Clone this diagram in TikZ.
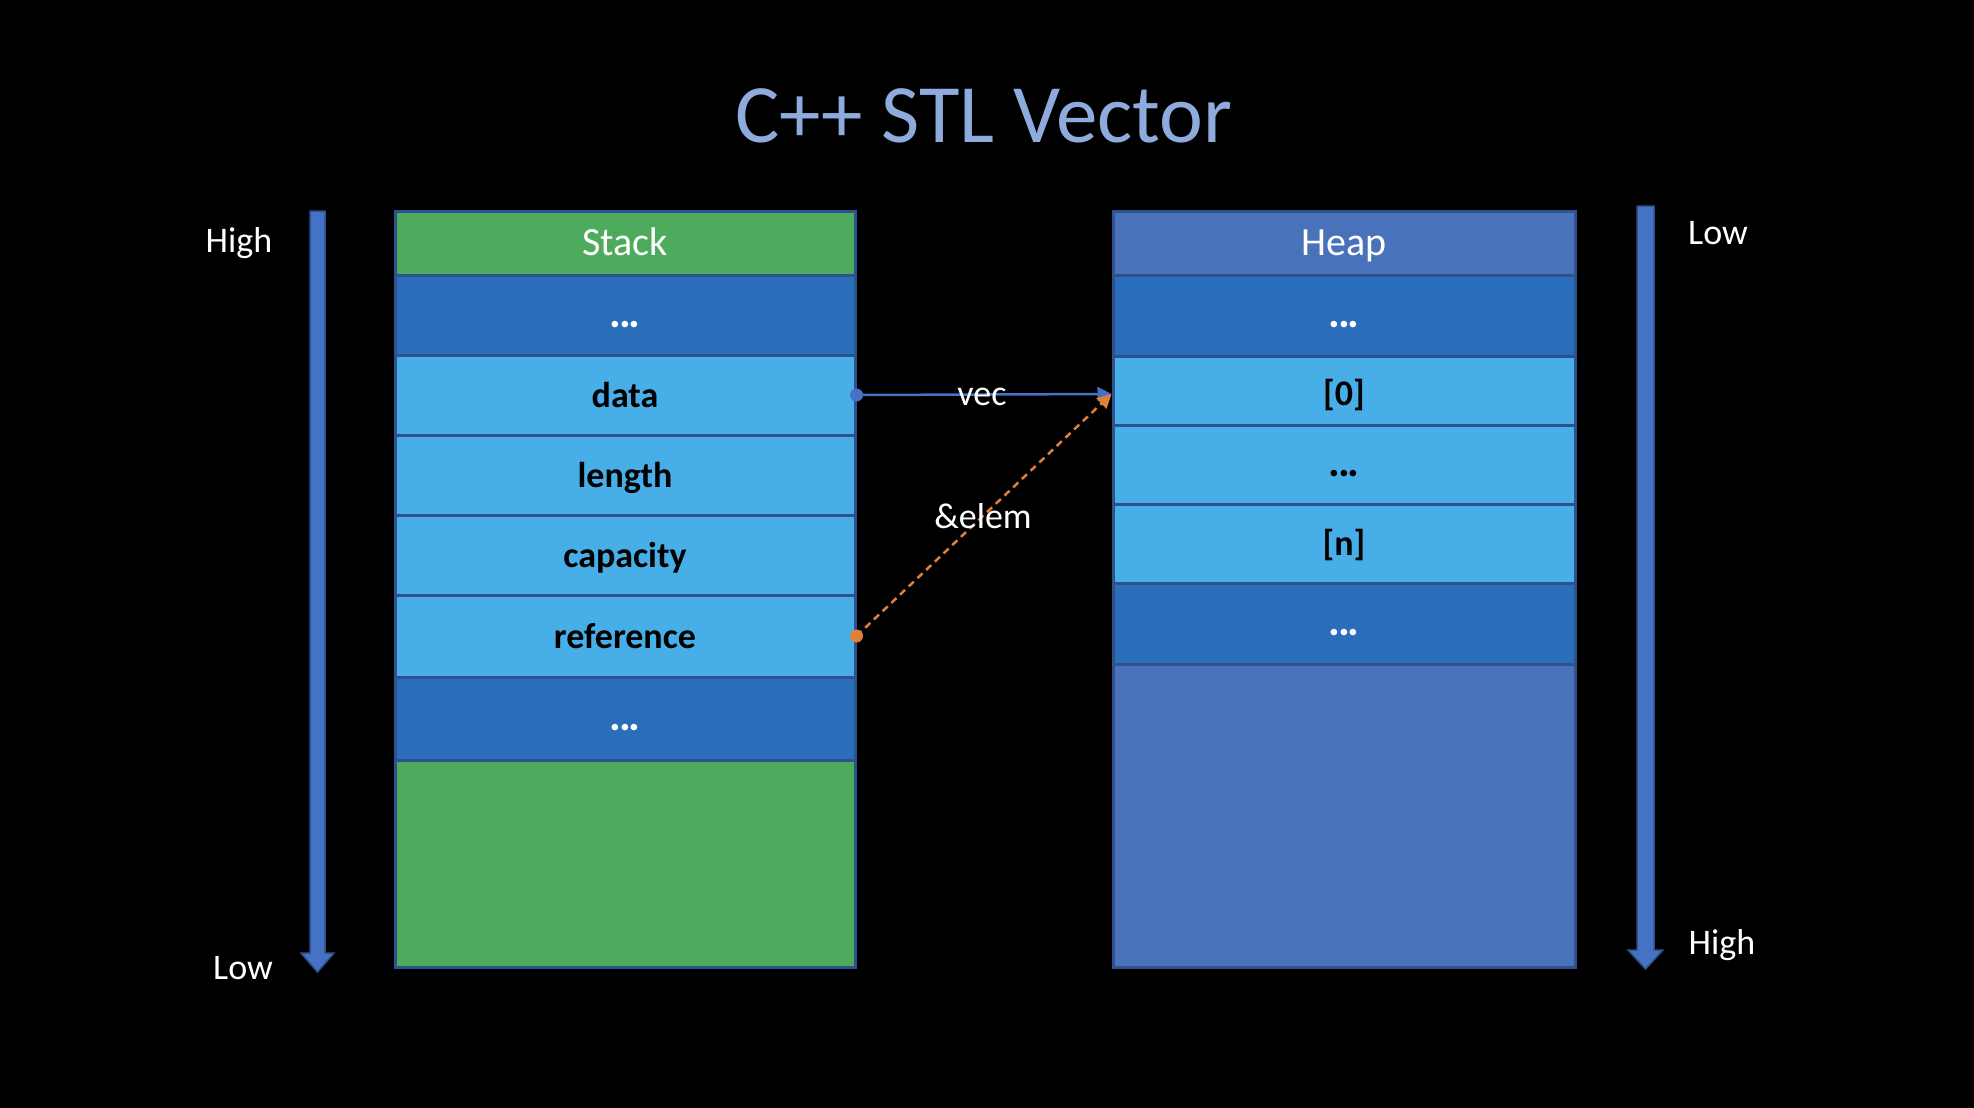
\documentclass[tikz,border=0pt]{standalone}
\usepackage{fontspec}
\setmainfont{Carlito}
\usetikzlibrary{arrows.meta}
\definecolor{bordc}{HTML}{2F528F}
\definecolor{greenc}{HTML}{4EAA5C}
\definecolor{darkc}{HTML}{2A6EBB}
\definecolor{litec}{HTML}{47AEE8}
\definecolor{heapc}{HTML}{4A72BB}
\definecolor{arrowc}{HTML}{4472C4}
\definecolor{orangec}{HTML}{E07F3C}
\definecolor{titlec}{HTML}{8FAADC}
\newcommand\myddd{{\fontsize{44}{50}\selectfont\bfseries .\kern-2.5pt.\kern-2.5pt.}}
\begin{document}
\begin{tikzpicture}[x=1pt,y=-1pt,
  cell/.style={draw=bordc, line width=3pt, inner sep=0pt, text height=30pt, text depth=6pt,
    font=\fontsize{36}{43}\selectfont\bfseries, text=black},
  scell/.style={cell, minimum width=460pt},
  hcell/.style={cell, minimum width=462pt},
  head/.style={font=\fontsize{40}{48}\selectfont, text=white},
  dots/.style={fill=darkc, text=white},
  lite/.style={fill=litec},
  lbl/.style={font=\fontsize{36}{43}\selectfont, text=white, anchor=base, inner sep=0pt},
  bigarrow/.style={fill=arrowc, draw=bordc, line width=1.5pt},
  vecline/.style={draw=arrowc, line width=2.5pt, -{Triangle[length=14pt,width=14pt]}},
  refline/.style={draw=orangec, line width=2.5pt, dash pattern=on 7pt off 5pt, -{Triangle[length=14pt,width=14pt]}}
]
\fill[black] (0,0) rectangle (1974,1108);
\useasboundingbox (0,0) rectangle (1974,1108);

% title
\node[font=\fontsize{83}{95}\selectfont, text=titlec, anchor=base, inner sep=0pt] (title) at (984,142) {C++ STL Vector};

% stack column
\node[scell, fill=greenc, minimum height=64pt] (shead) at (625,243) {};
\node[scell, fill=greenc, minimum height=207pt] (sbody) at (625,863.5) {};
\node[scell, dots, minimum height=80pt] (sd1) at (625,315) {\myddd};
\node[scell, lite, minimum height=80pt] (sdata) at (625,395) {data};
\node[scell, lite, minimum height=80pt] (slen) at (625,475) {length};
\node[scell, lite, minimum height=80pt] (scap) at (625,555) {capacity};
\node[scell, lite, minimum height=82pt] (sref) at (625,636) {reference};
\node[scell, dots, minimum height=83pt] (sd2) at (625,718.5) {\myddd};
\node[scell, fill=greenc, minimum height=64pt, head] (shead2) at (625,243) {Stack};

% heap column
\node[hcell, fill=heapc, minimum height=303pt] (hbody) at (1344,815.5) {};
\node[hcell, fill=heapc, minimum height=64pt, head] (hhead) at (1344,243) {Heap};
\node[hcell, dots, minimum height=81pt] (hd1) at (1344,315.5) {\myddd};
\node[hcell, lite, minimum height=69pt, text height=36pt] (h0) at (1344,390.5) {[0]};
\node[hcell, lite, minimum height=79pt] (hmid) at (1344,464.5) {\myddd};
\node[hcell, lite, minimum height=79pt] (hn) at (1344,543.5) {[n]};
\node[hcell, dots, minimum height=81pt] (hd2) at (1344,623.5) {\myddd};

% big direction arrows
\path[bigarrow] (310,211) -- (325,211) -- (325,953) -- (334,953) -- (317.5,972) -- (301,953) -- (310,953) -- cycle;
\path[bigarrow] (1637,206) -- (1654,206) -- (1654,950) -- (1663,950) -- (1645.5,969) -- (1628,950) -- (1637,950) -- cycle;

\node[lbl] (lhigh) at (239,252) {High};
\node[lbl] (llow) at (243,979) {Low};
\node[lbl] (rlow) at (1718,244) {Low};
\node[lbl] (rhigh) at (1722,954) {High};

% connectors
\coordinate (hin) at ([yshift=-3.5pt]h0.west);
\draw[vecline] (sdata.east) -- (hin);
\fill[arrowc] (sdata.east) circle (6.5);
\draw[refline] (sref.east) -- (hin);
\fill[orangec] (sref.east) circle (6.5);

\node[lbl] (vec) at (982,405) {vec};
\node[lbl] (elem) at (983,528) {\&elem};
\end{tikzpicture}
\end{document}
